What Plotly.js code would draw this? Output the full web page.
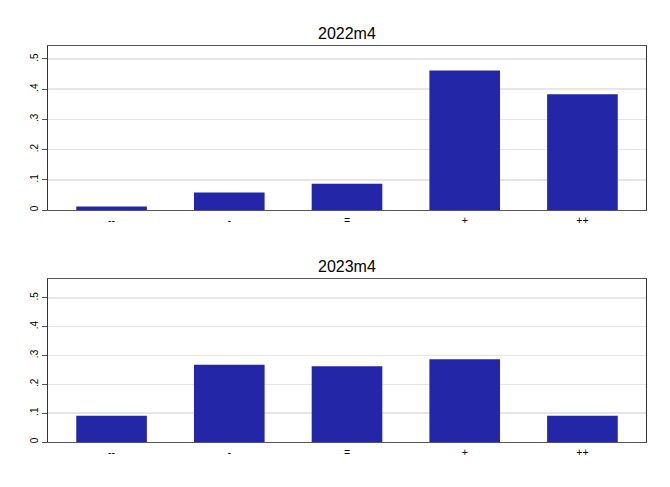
<!DOCTYPE html>
<html>
<head>
<meta charset="utf-8">
<script src="https://cdn.plot.ly/plotly-3.0.1.min.js"></script>
<style>html,body{margin:0;padding:0;background:#fff;}#chart{width:670px;height:487px;}</style>
</head>
<body>
<div id="chart"></div>
<script>
const categories = ["--", "-", "=", "+", "++"];
const values2022m4 = [0.012, 0.058, 0.087, 0.462, 0.383];
const values2023m4 = [0.091, 0.268, 0.263, 0.287, 0.091];
const panelTitles = ["2022m4", "2023m4"];
const yTickVals = [0, 0.1, 0.2, 0.3, 0.4, 0.5];
const yTickText = ["0", ".1", ".2", ".3", ".4", ".5"];

const barColor = "#2326A6";
const traces = [
  {type: "bar", x: categories, y: values2022m4, xaxis: "x", yaxis: "y",
   marker: {color: barColor, line: {width: 0}}, width: 0.6, hoverinfo: "none"},
  {type: "bar", x: categories, y: values2023m4, xaxis: "x2", yaxis: "y2",
   marker: {color: barColor, line: {width: 0}}, width: 0.6, hoverinfo: "none"}
];

const font = {family: "Arial, 'Liberation Sans', sans-serif", color: "#000"};
function xax(anchor) {
  return {anchor: anchor, domain: [0, 1], type: "category", range: [-0.54, 4.54],
    showgrid: false, zeroline: false, showline: true, linecolor: "#555", linewidth: 1.2,
    mirror: true, ticks: "", tickfont: Object.assign({size: 10.5}, font), fixedrange: true};
}
function yax(anchor, dom, top) {
  return {anchor: anchor, domain: dom, range: [0, top], tickvals: yTickVals, ticktext: yTickText,
    tickangle: -90, ticks: "outside", ticklen: 5, tickcolor: "#555", tickwidth: 1,
    showgrid: true, gridcolor: "#E6E6E6", gridwidth: 1.5, zeroline: false,
    showline: true, linecolor: "#333", linewidth: 1.2, mirror: true,
    tickfont: Object.assign({size: 10}, font), fixedrange: true};
}

const topDom = [1 - 210/487, 1 - 46/487];
const botDom = [1 - 442/487, 1 - 279/487];

const layout = {
  width: 670, height: 487,
  margin: {l: 48, r: 24, t: 0, b: 0},
  paper_bgcolor: "#fff", plot_bgcolor: "#fff",
  showlegend: false, bargap: 0.4,
  font: font,
  xaxis: xax("y"), yaxis: yax("x", topDom, 0.543),
  xaxis2: xax("y2"), yaxis2: yax("x2", botDom, 0.565),
  annotations: [
    {text: panelTitles[0], xref: "paper", yref: "paper", x: 0.5, y: topDom[1], yshift: 2,
     xanchor: "center", yanchor: "bottom", showarrow: false, font: Object.assign({size: 16}, font)},
    {text: panelTitles[1], xref: "paper", yref: "paper", x: 0.5, y: botDom[1], yshift: 2,
     xanchor: "center", yanchor: "bottom", showarrow: false, font: Object.assign({size: 16}, font)}
  ]
};

Plotly.newPlot("chart", traces, layout, {staticPlot: true, displayModeBar: false});
</script>
</body>
</html>
